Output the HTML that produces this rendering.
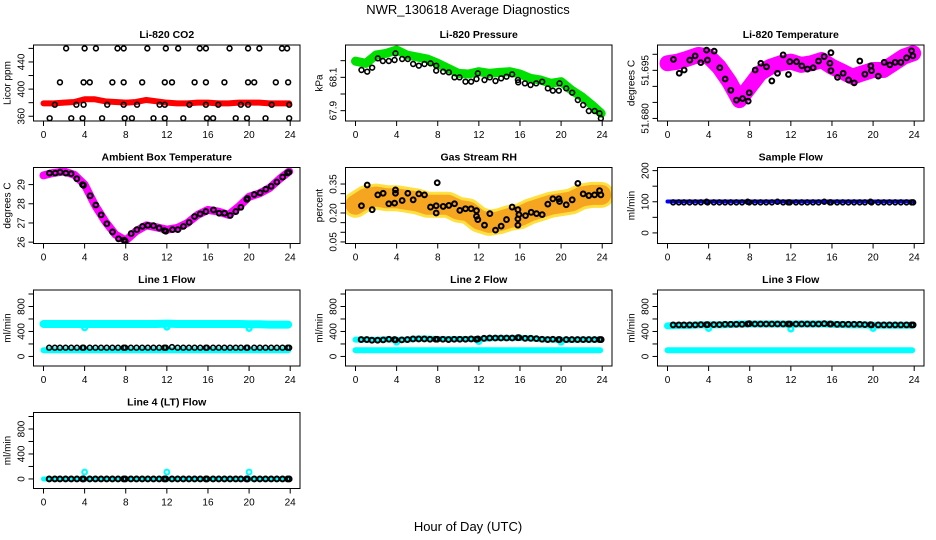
<!DOCTYPE html>
<html><head><meta charset="utf-8"><style>
html,body{margin:0;padding:0;background:#fff;}
svg{display:block;font-family:"Liberation Sans",sans-serif;}
</style></head><body>
<svg id="chart" width="936" height="540" viewBox="0 0 936 540" xmlns="http://www.w3.org/2000/svg">
<text x="468" y="14" text-anchor="middle" font-size="13">NWR_130618  Average Diagnostics</text>
<text x="468" y="531" text-anchor="middle" font-size="13">Hour of Day (UTC)</text>
</svg>
<script>
// ---- shared data ----
const hours = [0,1,2,3,4,5,6,7,8,9,10,11,12,13,14,15,16,17,18,19,20,21,22,23,24];
const xTicks = [0,4,8,12,16,20,24];
const flowTimes = [0.55,1.1,1.6,2.15,2.7,3.25,3.8,3.9,4.5,5.05,5.6,6.15,6.7,7.25,7.8,7.95,8.5,9.05,9.6,10.15,10.7,11.25,11.75,11.9,12.5,13.05,13.6,14.15,14.7,15.25,15.8,15.9,16.5,17.05,17.6,18.15,18.7,19.2,19.75,19.85,20.5,21.05,21.6,22.15,22.7,23.25,23.75,23.9];

// CO2
const co2BandVals = [379,379,380,381,385,385,382,381,380,381,384,382,380,379,379,380,380,379,379,380,380,380,379,379,379];
const co2BlackTimes = [2.2,4.0,5.1,7.2,7.8,10.1,11.9,13.1,15.2,15.8,18.1,19.9,21.0,23.2,23.7, 1.6,3.9,4.5,6.7,7.8,9.6,11.8,12.5,14.7,15.8,17.6,19.9,20.5,22.6,23.8, 1.1,3.2,3.9,6.2,7.8,9.1,11.3,11.8,14.2,15.8,17.0,19.2,19.9,22.2,23.9, 0.6,2.7,3.8,5.7,7.9,8.6,10.7,11.8,13.6,15.9,16.5,18.7,19.8,21.6,23.9];
const co2BlackVals = [460,460,460,460,460,460,460,460,460,460,460,460,460,460,460, 410,410,410,410,410,410,410,410,410,410,410,410,410,410,410, 377,377,377,377,377,377,377,377,377,377,377,377,377,377,377, 357,357,357,357,357,357,357,357,357,357,357,357,357,357,357];

// Pressure
const presBandVals = [68.197,68.184,68.234,68.244,68.264,68.234,68.222,68.21,68.184,68.154,68.124,68.12,68.134,68.124,68.13,68.134,68.12,68.094,68.084,68.064,68.074,68.024,67.984,67.934,67.884];
const presBlackTimes = [0.58,1.14,1.62,2.17,2.66,3.24,3.8,3.89,4.54,5.09,5.61,6.16,6.71,7.3,7.85,7.85,8.53,9.08,9.63,10.12,10.7,11.25,11.77,11.9,12.55,13.07,13.62,14.17,14.69,15.24,15.8,15.83,16.48,17.03,17.58,18.16,18.71,19.2,19.78,19.85,20.5,21.08,21.63,22.15,22.7,23.26,23.74,23.87];
const presBlackVals = [68.144,68.134,68.158,68.214,68.198,68.198,68.204,68.244,68.21,68.21,68.18,68.17,68.18,68.184,68.17,68.14,68.134,68.13,68.10,68.10,68.074,68.074,68.09,68.124,68.084,68.10,68.078,68.094,68.104,68.118,68.084,68.07,68.064,68.054,68.064,68.074,68.034,68.02,68.02,68.064,68.034,68.008,67.964,67.934,67.898,67.898,67.884,67.854];

// Li-820 temperature
const tempBandVals = [51.6972,51.6977,51.6987,51.6998,51.6993,51.6961,51.6915,51.6857,51.6899,51.6941,51.6961,51.6972,51.6977,51.6967,51.6972,51.6982,51.6961,51.6946,51.6930,51.6941,51.6951,51.6951,51.6972,51.6993,51.7003];
const tempBlackTimes = [0.58,1.14,1.62,2.17,2.69,3.24,3.8,3.89,4.54,5.09,5.61,6.16,6.71,7.3,7.85,7.95,8.53,9.08,9.63,10.15,10.7,11.25,11.77,11.9,12.55,13.07,13.62,14.17,14.69,15.24,15.8,15.9,15.9,16.54,17.09,17.61,18.16,18.71,19.2,19.78,19.85,20.5,21.08,21.63,22.15,22.7,23.26,23.74,23.87];
const tempBlackVals = [51.6984,51.6941,51.6951,51.6982,51.6995,51.6974,51.7013,51.6982,51.7010,51.6958,51.6923,51.6888,51.6857,51.6862,51.6854,51.6880,51.6951,51.6972,51.6961,51.6917,51.6941,51.6998,51.6937,51.6977,51.6977,51.6964,51.6954,51.6958,51.6979,51.6993,51.6972,51.7005,51.6949,51.6928,51.6941,51.6920,51.6911,51.6979,51.6938,51.6964,51.6949,51.6932,51.6975,51.6967,51.6975,51.6975,51.6989,51.7011,51.6995];

// Ambient box temperature
const ambBandVals = [29.477,29.614,29.683,29.511,28.998,27.936,27.080,26.395,26.087,26.567,26.875,26.772,26.652,26.738,26.995,27.423,27.680,27.594,27.423,27.851,28.364,28.536,28.826,29.306,29.683];
const ambBlackTimes = [0.58,1.14,1.62,2.17,2.69,3.24,3.8,3.89,4.54,5.09,5.61,6.16,6.71,7.3,7.85,7.95,8.53,9.08,9.63,10.15,10.7,11.25,11.77,11.9,12.55,13.07,13.62,14.17,14.69,15.24,15.8,16.54,17.09,17.61,18.16,18.71,19.2,19.78,19.85,20.5,21.08,21.63,22.15,22.7,23.26,23.74,23.87];
const ambBlackVals = [29.597,29.597,29.648,29.597,29.563,29.306,28.998,28.963,28.416,27.936,27.423,26.960,26.533,26.173,26.104,26.053,26.447,26.652,26.823,26.875,26.858,26.738,26.601,26.567,26.652,26.652,26.823,27.029,27.337,27.474,27.594,27.680,27.508,27.508,27.388,27.594,27.817,28.228,28.279,28.484,28.570,28.758,28.912,29.135,29.391,29.614,29.648];

// Gas stream RH
const rhBandVals = [0.2426,0.2766,0.2852,0.2766,0.2766,0.2681,0.2596,0.2426,0.2426,0.2426,0.2170,0.2085,0.1659,0.1488,0.1574,0.1744,0.1829,0.2085,0.2255,0.2426,0.2511,0.2596,0.2852,0.2937,0.2937];
const rhBlackTimes = [0.58,1.14,1.62,2.17,2.69,3.24,3.8,3.89,3.89,4.54,5.09,5.61,6.16,6.71,7.3,7.85,7.85,7.95,8.53,9.08,9.63,10.15,10.7,11.25,11.77,11.77,11.9,11.9,12.55,13.07,13.62,14.17,14.69,15.24,15.8,15.8,15.8,15.9,16.54,17.09,17.61,18.16,18.71,19.2,19.78,19.85,20.5,21.08,21.63,22.15,22.7,23.26,23.74,23.87];
const rhBlackVals = [0.2375,0.3448,0.2170,0.2937,0.3022,0.2477,0.2511,0.3022,0.3193,0.2647,0.3022,0.2681,0.2988,0.2937,0.2306,0.2375,0.2000,0.3567,0.2340,0.2392,0.2477,0.2136,0.2221,0.2221,0.2119,0.1829,0.1659,0.0244,0.1369,0.1966,0.1113,0.1318,0.1659,0.2306,0.2170,0.1693,0.1369,0.1915,0.1863,0.2034,0.1966,0.1915,0.2460,0.2733,0.2733,0.2596,0.2426,0.2681,0.3533,0.2988,0.2903,0.2937,0.3158,0.2937];

// Sample flow
const sampleBandVals = [101,101,101,101,101,101,101,101,101,101,101,101,101,101,101,101,101,101,101,101,101,101,101,101,101];
const sampleBlackVals = [98,98,98,98,98,98,100,98,98,98,98,98,98,98,100,98,98,98,98,98,100,98,98,98,98,98,98,98,98,100,98,98,98,98,98,98,98,98,100,98,98,98,98,98,98,98,98,98];

// Line flows
const dipTimes = [4,12,20];
const line1HighVals = [520,520,520,520,520,520,520,520,520,520,520,520,525,520,520,520,520,520,520,520,515,515,510,510,510];
const line1DipVals = [460,470,450];
const line1LowVals = [100,100,100,100,100,100,100,100,100,100,100,100,100,100,100,100,100,100,100,100,100,100,100,100,100];
const line1BlackVals = [140,140,140,140,140,140,140,140,140,140,140,140,140,140,140,140,140,140,140,140,140,140,140,140,150,140,140,140,140,140,140,140,140,140,140,140,140,140,140,140,140,140,140,140,140,140,140,140];
const line2HighVals = [270,270,265,275,265,270,285,285,280,280,280,280,275,290,295,295,295,290,275,270,265,265,270,270,270];
const line2DipVals = [230,240,230];
const line2LowVals = [100,100,100,100,100,100,100,100,100,100,100,100,100,100,100,100,100,100,100,100,100,100,100,100,100];
const line2BlackVals = [270,270,260,260,265,275,270,265,265,270,280,280,280,275,275,275,275,270,275,275,275,280,275,280,290,295,295,295,295,295,300,300,290,290,285,275,270,275,270,270,270,270,270,270,270,270,270,270];
const line3HighVals = [490,495,495,505,505,505,510,520,520,520,520,520,515,520,520,520,515,510,505,505,500,500,500,500,500];
const line3DipVals = [450,440,450];
const line3LowVals = [100,100,100,100,100,100,100,100,100,100,100,100,100,100,100,100,100,100,100,100,100,100,100,100,100];
const line3BlackVals = [505,505,505,505,505,510,510,510,510,510,515,515,515,515,520,525,520,520,520,520,520,520,520,520,520,520,520,520,520,525,520,520,515,515,515,515,515,510,510,505,505,505,505,505,505,505,505,505];
const line4LowVals = [0,0,0,0,0,0,0,0,0,0,0,0,0,0,0,0,0,0,0,0,0,0,0,0,0];
const line4SpikeVals = [110,110,110];
const line4BlackVals = [0,0,0,0,0,0,0,0,0,0,0,0,0,0,0,0,0,0,0,0,0,0,0,0,0,0,0,0,0,0,0,0,0,0,0,0,0,0,0,0,0,0,0,0,0,0,0,0];

const NS = 'http://www.w3.org/2000/svg';
const svg = document.getElementById('chart');
function mk(tag, attrs, parent){
  const e = document.createElementNS(NS, tag);
  for (const k in attrs) e.setAttribute(k, attrs[k]);
  (parent || svg).appendChild(e);
  return e;
}
const colLeft = [33.5, 345.5, 657.5];
const rowTop = [45, 167.5, 290, 412.5];
const W = 266.5, H = 76;

function panel(cfg){
  const L = colLeft[cfg.col], T = rowTop[cfg.row];
  const g = mk('g', {});
  
  
  const x = h => L + 10 + h * (246.7 / 24);
  const y = v => T + H - (v - cfg.yMin) / (cfg.yMax - cfg.yMin) * H;
  const clip = mk('clipPath', {id: 'c' + cfg.name}, g);
  mk('rect', {x: L, y: T, width: W, height: H}, clip);
  const plot = mk('g', {'clip-path': 'url(#c' + cfg.name + ')'}, g);
  
  
  cfg.draw(plot, x, y);
  const box = mk('rect', {x: L, y: T, width: W, height: H, fill: 'none', stroke: '#000', 'stroke-width': 1}, g);
  
  
  const title = mk('text', {x: L + W / 2, y: T - 7, 'text-anchor': 'middle', 'font-size': 10.5, 'font-weight': 'bold'}, g);
  
  
  title.textContent = cfg.title;
  const xa = mk('g', {stroke: '#000', 'stroke-width': 1}, g);
  
  
  mk('line', {x1: x(0), x2: x(24), y1: T + H, y2: T + H}, xa);
  xTicks.forEach(t => {
    mk('line', {x1: x(t), x2: x(t), y1: T + H, y2: T + H + 5}, xa);
    const lb = mk('text', {x: x(t), y: T + H + 17, 'text-anchor': 'middle', 'font-size': 10, stroke: 'none'}, g);
    
    
    lb.textContent = t;
  });
  const ya = mk('g', {stroke: '#000', 'stroke-width': 1}, g);
  
  
  mk('line', {x1: L, x2: L, y1: y(cfg.yTicks[0]), y2: y(cfg.yTicks[cfg.yTicks.length - 1])}, ya);
  cfg.yTicks.forEach(t => mk('line', {x1: L - 5, x2: L, y1: y(t), y2: y(t)}, ya));
  cfg.yLabels.forEach(t => {
    const lx = L - 9, ly = y(t);
    const lb = mk('text', {x: lx, y: ly, 'text-anchor': 'middle', 'font-size': 10, transform: 'rotate(-90 ' + lx + ' ' + ly + ')'}, g);
    
    
    lb.textContent = cfg.fmt ? cfg.fmt(t) : t;
  });
  const tx = L - 23, ty = T + H / 2;
  const yt = mk('text', {x: tx, y: ty, 'text-anchor': 'middle', 'font-size': 10, transform: 'rotate(-90 ' + tx + ' ' + ty + ')'}, g);
  
  
  yt.textContent = cfg.yTitle;
}
function band(p, x, y, times, vals, color, w, name){
  const pl = mk('polyline', {points: times.map((t, i) => x(t) + ',' + y(vals[i])).join(' '), fill: 'none', stroke: color, 'stroke-width': w, 'stroke-linecap': 'round', 'stroke-linejoin': 'round'}, p);
  
  
}
function pts(p, x, y, times, vals, color, name, sw){
  times.forEach((t, i) => {
    const c = mk('circle', {cx: x(t), cy: y(vals[i]), r: 2.4, fill: 'none', stroke: color, 'stroke-width': sw || 1.6}, p);
    
    
  });
}
const flowTicks = [0,200,400,600,800,1000];
const flowLabels = [0,400,800];
const bandT = hours.map(h => Math.min(h, 23.9));
const flowT = hours.map(h => Math.min(h, 23.8));

panel({name: 'co2', title: 'Li-820 CO2', col: 0, row: 0, yMin: 353, yMax: 465, yTicks: [360,380,400,420,440,460], yLabels: [360,400,440], yTitle: 'Licor ppm',
  draw: (p, x, y) => { band(p, x, y, bandT, co2BandVals, '#ff0000', 6, 'co2-series'); pts(p, x, y, co2BlackTimes, co2BlackVals, '#000', 'co2-hourly-point'); }});
panel({name: 'pressure', title: 'Li-820 Pressure', col: 1, row: 0, yMin: 67.838, yMax: 68.294, yTicks: [67.9,68.0,68.1,68.2], yLabels: [67.9,68.1], yTitle: 'kPa', fmt: v => v.toFixed(1),
  draw: (p, x, y) => { band(p, x, y, bandT, presBandVals, '#00e000', 9, 'pressure-series'); pts(p, x, y, presBlackTimes, presBlackVals, '#000', 'pressure-hourly-point'); }});
panel({name: 'temperature', title: 'Li-820 Temperature', col: 2, row: 0, yMin: 51.6792, yMax: 51.7029, yTicks: [51.680,51.685,51.690,51.695,51.700], yLabels: [51.680,51.695], yTitle: 'degrees C', fmt: v => v.toFixed(3),
  draw: (p, x, y) => { band(p, x, y, bandT, tempBandVals, '#ff00ff', 16, 'temperature-series'); pts(p, x, y, tempBlackTimes, tempBlackVals, '#000', 'temperature-hourly-point', 2); }});
panel({name: 'ambient', title: 'Ambient Box Temperature', col: 0, row: 1, yMin: 25.93, yMax: 29.89, yTicks: [26,27,28,29], yLabels: [26,27,28,29], yTitle: 'degrees C',
  draw: (p, x, y) => { band(p, x, y, bandT, ambBandVals, '#ff00ff', 8, 'ambient-series'); pts(p, x, y, ambBlackTimes, ambBlackVals, '#000', 'ambient-hourly-point', 2); }});
panel({name: 'rh', title: 'Gas Stream RH', col: 1, row: 1, yMin: 0.0419, yMax: 0.4356, yTicks: [0.05,0.10,0.15,0.20,0.25,0.30,0.35], yLabels: [0.05,0.20,0.35], yTitle: 'percent', fmt: v => v.toFixed(2),
  draw: (p, x, y) => { band(p, x, y, bandT, rhBandVals, '#ffe040', 26, 'rh-series-outer'); band(p, x, y, bandT, rhBandVals, '#f5a520', 20, 'rh-series'); pts(p, x, y, rhBlackTimes, rhBlackVals, '#000', 'rh-hourly-point', 2); }});
panel({name: 'sample-flow', title: 'Sample Flow', col: 2, row: 1, yMin: -34, yMax: 210, yTicks: [0,50,100,150,200], yLabels: [0,100,200], yTitle: 'ml/min',
  draw: (p, x, y) => { band(p, x, y, bandT, sampleBandVals, '#0000ff', 4, 'sample-flow-series'); pts(p, x, y, flowTimes, sampleBlackVals, '#000', 'sample-flow-hourly-point'); }});
panel({name: 'line1', title: 'Line 1 Flow', col: 0, row: 2, yMin: -153, yMax: 1064, yTicks: flowTicks, yLabels: flowLabels, yTitle: 'ml/min',
  draw: (p, x, y) => { band(p, x, y, flowT, line1HighVals, '#00ffff', 8, 'line1-high-series'); pts(p, x, y, dipTimes, line1DipVals, '#00ffff', 'line1-dip-point', 2.4); band(p, x, y, flowT, line1LowVals, '#00ffff', 6, 'line1-low-series'); pts(p, x, y, flowTimes, line1BlackVals, '#000', 'line1-hourly-point'); }});
panel({name: 'line2', title: 'Line 2 Flow', col: 1, row: 2, yMin: -153, yMax: 1064, yTicks: flowTicks, yLabels: flowLabels, yTitle: 'ml/min',
  draw: (p, x, y) => { band(p, x, y, flowT, line2HighVals, '#00ffff', 6, 'line2-high-series'); pts(p, x, y, dipTimes, line2DipVals, '#00ffff', 'line2-dip-point', 2.4); band(p, x, y, flowT, line2LowVals, '#00ffff', 6, 'line2-low-series'); pts(p, x, y, flowTimes, line2BlackVals, '#000', 'line2-hourly-point', 2); }});
panel({name: 'line3', title: 'Line 3 Flow', col: 2, row: 2, yMin: -153, yMax: 1064, yTicks: flowTicks, yLabels: flowLabels, yTitle: 'ml/min',
  draw: (p, x, y) => { band(p, x, y, flowT, line3HighVals, '#00ffff', 7, 'line3-high-series'); pts(p, x, y, dipTimes, line3DipVals, '#00ffff', 'line3-dip-point', 2.4); band(p, x, y, flowT, line3LowVals, '#00ffff', 6, 'line3-low-series'); pts(p, x, y, flowTimes, line3BlackVals, '#000', 'line3-hourly-point', 2); }});
panel({name: 'line4', title: 'Line 4 (LT) Flow', col: 0, row: 3, yMin: -153, yMax: 1064, yTicks: flowTicks, yLabels: flowLabels, yTitle: 'ml/min',
  draw: (p, x, y) => { band(p, x, y, flowT, line4LowVals, '#00ffff', 5, 'line4-series'); pts(p, x, y, dipTimes, line4SpikeVals, '#00ffff', 'line4-spike-point', 2); pts(p, x, y, flowTimes, line4BlackVals, '#000', 'line4-hourly-point', 2); }});
</script>
</body></html>
